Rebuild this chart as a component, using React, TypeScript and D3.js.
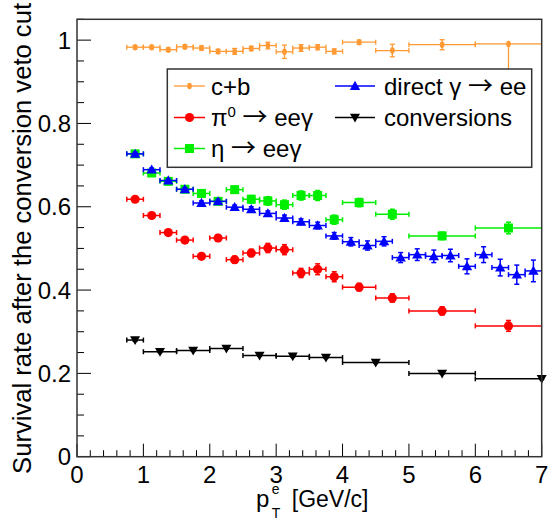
import React from "react";
import * as d3 from "d3";

// ---------- data ----------
const cbX = [0.875, 1.125, 1.375, 1.625, 1.875, 2.125, 2.375, 2.625, 2.875, 3.125, 3.375, 3.625, 3.875, 4.25, 4.75, 5.5, 6.5];
const cbXerr = [0.125, 0.125, 0.125, 0.125, 0.125, 0.125, 0.125, 0.125, 0.125, 0.125, 0.125, 0.125, 0.125, 0.25, 0.25, 0.5, 0.5];
const cbY = [0.983, 0.983, 0.977, 0.984, 0.981, 0.973, 0.973, 0.980, 0.987, 0.972, 0.981, 0.983, 0.973, 0.995, 0.975, 0.989, 0.991];
const cbEup = [0.004, 0.004, 0.004, 0.004, 0.005, 0.005, 0.007, 0.005, 0.008, 0.016, 0.008, 0.006, 0.006, 0.005, 0.015, 0.012, 0.0];
const cbEdn = [0.004, 0.004, 0.004, 0.004, 0.005, 0.005, 0.007, 0.005, 0.008, 0.016, 0.008, 0.006, 0.006, 0.005, 0.015, 0.012, 0.12];

const pi0X = [0.875, 1.125, 1.375, 1.625, 1.875, 2.125, 2.375, 2.625, 2.875, 3.125, 3.375, 3.625, 3.875, 4.25, 4.75, 5.5, 6.5];
const pi0Xerr = [0.125, 0.125, 0.125, 0.125, 0.125, 0.125, 0.125, 0.125, 0.125, 0.125, 0.125, 0.125, 0.125, 0.25, 0.25, 0.5, 0.5];
const pi0Y = [0.618, 0.579, 0.538, 0.520, 0.481, 0.525, 0.473, 0.489, 0.501, 0.497, 0.441, 0.450, 0.432, 0.407, 0.381, 0.350, 0.314];
const pi0E = [0.004, 0.004, 0.005, 0.005, 0.006, 0.008, 0.008, 0.009, 0.011, 0.012, 0.011, 0.013, 0.012, 0.009, 0.01, 0.01, 0.013];

const etaX = [0.875, 1.125, 1.375, 1.625, 1.875, 2.125, 2.375, 2.625, 2.875, 3.125, 3.375, 3.625, 3.875, 4.25, 4.75, 5.5, 6.5];
const etaXerr = [0.125, 0.125, 0.125, 0.125, 0.125, 0.125, 0.125, 0.125, 0.125, 0.125, 0.125, 0.125, 0.125, 0.25, 0.25, 0.5, 0.5];
const etaY = [0.727, 0.681, 0.661, 0.642, 0.632, 0.613, 0.641, 0.618, 0.614, 0.605, 0.627, 0.627, 0.569, 0.610, 0.582, 0.530, 0.549];
const etaE = [0.004, 0.004, 0.005, 0.005, 0.006, 0.007, 0.008, 0.009, 0.01, 0.011, 0.011, 0.012, 0.011, 0.01, 0.012, 0.009, 0.014];

const dirX = [0.875, 1.125, 1.375, 1.625, 1.875, 2.125, 2.375, 2.625, 2.875, 3.125, 3.375, 3.625, 3.875, 4.125, 4.375, 4.625, 4.875, 5.125, 5.375, 5.625, 5.875, 6.125, 6.375, 6.625, 6.875];
const dirY = [0.727, 0.689, 0.663, 0.642, 0.609, 0.613, 0.599, 0.594, 0.584, 0.573, 0.564, 0.555, 0.530, 0.516, 0.507, 0.517, 0.478, 0.485, 0.481, 0.483, 0.457, 0.485, 0.454, 0.437, 0.446];
const dirE = [0.004, 0.004, 0.004, 0.004, 0.005, 0.005, 0.005, 0.006, 0.006, 0.007, 0.007, 0.008, 0.008, 0.01, 0.011, 0.011, 0.012, 0.014, 0.015, 0.015, 0.018, 0.019, 0.02, 0.023, 0.026];
const dirXerr = 0.125;

const convX = [0.875, 1.25, 1.75, 2.25, 2.75, 3.25, 3.75, 4.5, 5.5, 7.0];
const convXerr = [0.125, 0.25, 0.25, 0.25, 0.25, 0.25, 0.25, 0.5, 0.5, 1.0];
const convY = [0.280, 0.252, 0.255, 0.260, 0.243, 0.241, 0.238, 0.226, 0.200, 0.187];
const convE = [0.003, 0.002, 0.002, 0.002, 0.002, 0.002, 0.002, 0.002, 0.002, 0.002];

const xTicks = [0, 1, 2, 3, 4, 5, 6, 7];
const yTicks = [0, 0.2, 0.4, 0.6, 0.8, 1];

const ORANGE = "#ff9933";
const RED = "#ff0000";
const GREEN = "#00ee00";
const BLUE = "#0000ff";
const BLACK = "#000000";

const W = 548, H = 522;
const x = d3.scaleLinear().domain([0, 7]).range([77, 541.7]);
const y = d3.scaleLinear().domain([0, 1.05]).range([456.7, 19.3]);

type Pt = { x: number; y: number; xl: number; xh: number; yl: number; yh: number };

function build(xs: number[], ys: number[], xerr: number[] | number, eup: number[], edn?: number[]): Pt[] {
  return xs.map((xv, i) => {
    const xe = Array.isArray(xerr) ? xerr[i] : xerr;
    return {
      x: xv,
      y: ys[i],
      xl: Math.max(0, xv - xe),
      xh: Math.min(7, xv + xe),
      yl: ys[i] - (edn ? edn[i] : eup[i]),
      yh: ys[i] + eup[i],
    };
  });
}

function Marker({ kind, cx, cy, color }: { kind: string; cx: number; cy: number; color: string }) {
  if (kind === "circle") return <circle cx={cx} cy={cy} r={4.6} fill={color} />;
  if (kind === "square") return <rect x={cx - 4.5} y={cy - 4.5} width={9} height={9} fill={color} />;
  if (kind === "tri") {
    const s = 5.2;
    return <path d={`M${cx},${cy - s}L${cx + s},${cy + s * 0.75}L${cx - s},${cy + s * 0.75}Z`} fill={color} />;
  }
  if (kind === "itri") {
    const s = 5.0;
    return <path d={`M${cx},${cy + s}L${cx + s},${cy - s * 0.75}L${cx - s},${cy - s * 0.75}Z`} fill={color} />;
  }
  return <ellipse cx={cx} cy={cy} rx={2.3} ry={3.2} fill={color} />;
}

function Series({ pts, color, kind, lw = 1.5 }: { pts: Pt[]; color: string; kind: string; lw?: number }) {
  const cap = 2.5;
  return (
    <g>
      {pts.map((p, i) => {
        const cx = x(p.x), cy = y(p.y);
        const x0 = x(p.xl), x1 = x(p.xh);
        const yTop = y(p.yh), yBot = y(p.yl);
        return (
          <g key={i} stroke={color} strokeWidth={lw} fill="none">
            <line x1={x0} x2={x1} y1={cy} y2={cy} />
            <line x1={x0} x2={x0} y1={cy - cap} y2={cy + cap} />
            {p.xh < 7 && <line x1={x1} x2={x1} y1={cy - cap} y2={cy + cap} />}
            {yTop < cy - 0.5 && <line x1={cx} x2={cx} y1={cy} y2={yTop} />}
            {yTop < cy - 0.5 && <line x1={cx - cap} x2={cx + cap} y1={yTop} y2={yTop} />}
            {yBot > cy + 0.5 && <line x1={cx} x2={cx} y1={cy} y2={yBot} />}
            {yBot > cy + 0.5 && <line x1={cx - cap} x2={cx + cap} y1={yBot} y2={yBot} />}
            <g stroke="none">
              <Marker kind={kind} cx={cx} cy={cy} color={color} />
            </g>
          </g>
        );
      })}
    </g>
  );
}

function LegendEntry({ lx, ly, color, kind, lw = 1.5, children }: any) {
  const wide = kind === "tri" || kind === "itri";
  return (
    <g>
      <line x1={lx} x2={lx + (wide ? 40 : 31)} y1={ly} y2={ly} stroke={color} strokeWidth={lw} />
      <Marker kind={kind} cx={lx + (wide ? 20 : 15.5)} cy={ly} color={color} />
      {children}
    </g>
  );
}

const ARROW_FONT = "'Noto Sans CJK JP', 'Noto Sans CJK SC', 'DejaVu Sans', sans-serif";

function Arrow() {
  return <tspan fontFamily={ARROW_FONT} fontSize={25}>→</tspan>;
}

export default function App() {
  const cb = build(cbX, cbY, cbXerr, cbEup, cbEdn);
  const pi0 = build(pi0X, pi0Y, pi0Xerr, pi0E);
  const eta = build(etaX, etaY, etaXerr, etaE);
  const dir = build(dirX, dirY, dirXerr, dirE);
  const conv = build(convX, convY, convXerr, convE);

  const xMinor = d3.range(0, 7.0001, 0.2);
  const yMinor = d3.range(0, 1.0501, 0.05);
  const font = "'Liberation Sans', Arial, Helvetica, sans-serif";
  const fs = 24;

  return (
    <div style={{ position: "absolute", left: 0, top: 0 }}>
      <svg width={W} height={H} style={{ display: "block", fontFamily: font }}>
        <rect width={W} height={H} fill="#fff" />
        {/* ticks */}
        <g stroke="#000" strokeWidth={1}>
          {xMinor.map((v, i) => {
            const major = Math.abs(v - Math.round(v)) < 1e-6;
            return <line key={"xm" + i} x1={x(v)} x2={x(v)} y1={y(0)} y2={y(0) - (major ? 13 : 6.5)} />;
          })}
          {yMinor.map((v, i) => {
            const major = Math.abs(v * 5 - Math.round(v * 5)) < 1e-6;
            return <line key={"ym" + i} x1={x(0)} x2={x(0) + (major ? 14 : 7)} y1={y(v)} y2={y(v)} />;
          })}
        </g>
        {/* data */}
        <Series pts={cb} color={ORANGE} kind="diam" lw={1.3} />
        <Series pts={pi0} color={RED} kind="circle" />
        <Series pts={eta} color={GREEN} kind="square" />
        <Series pts={dir} color={BLUE} kind="tri" />
        <Series pts={conv} color={BLACK} kind="itri" />
        {/* frame */}
        <rect x={x(0)} y={y(1.05)} width={x(7) - x(0)} height={y(0) - y(1.05)} fill="none" stroke="#333" strokeWidth={1.5} />
        {/* tick labels */}
        <g fontSize={fs} fill="#000">
          {xTicks.map((v) => (
            <text key={"xl" + v} x={x(v)} y={y(0) + 26} textAnchor="middle">{v}</text>
          ))}
          {yTicks.map((v) => (
            <text key={"yl" + v} x={71} y={y(v) + 8.5} textAnchor="end">{v === 0 || v === 1 ? String(v) : v.toFixed(1)}</text>
          ))}
        </g>
        {/* axis titles */}
        <text transform={`translate(31,3) rotate(-90)`} textAnchor="end" fontSize={25.6} fill="#000">
          Survival rate after the conversion veto cut
        </text>
        <text x={256} y={507} fontSize={24} fill="#000">
          p<tspan dx={2.5} dy={-13} fontSize={14}>e</tspan>
          <tspan dx={-7.8} dy={24} fontSize={14}>T</tspan>
          <tspan dx={5} dy={-11} fontSize={23}> [GeV/c]</tspan>
        </text>
        {/* legend */}
        <rect x={167.3} y={69} width={364.4} height={98.3} fill="#fff" stroke="#333" strokeWidth={1.5} />
        <g fontSize={fs} fill="#000">
          <LegendEntry lx={174} ly={86} color={ORANGE} kind="diam" lw={1.3}>
            <text x={211} y={94.5}>c+b</text>
          </LegendEntry>
          <LegendEntry lx={174} ly={117.5} color={RED} kind="circle">
            <text x={211} y={126}>π<tspan dy={-9} fontSize={15}>0</tspan><tspan dy={9}> </tspan><Arrow /><tspan> eeγ</tspan></text>
          </LegendEntry>
          <LegendEntry lx={174} ly={148.5} color={GREEN} kind="square">
            <text x={211} y={157}>η <Arrow /><tspan> eeγ</tspan></text>
          </LegendEntry>
          <LegendEntry lx={335} ly={86} color={BLUE} kind="tri">
            <text x={384} y={94.5}>direct γ <Arrow /><tspan> ee</tspan></text>
          </LegendEntry>
          <LegendEntry lx={335} ly={117.5} color={BLACK} kind="itri">
            <text x={384} y={126}>conversions</text>
          </LegendEntry>
        </g>
      </svg>
    </div>
  );
}
